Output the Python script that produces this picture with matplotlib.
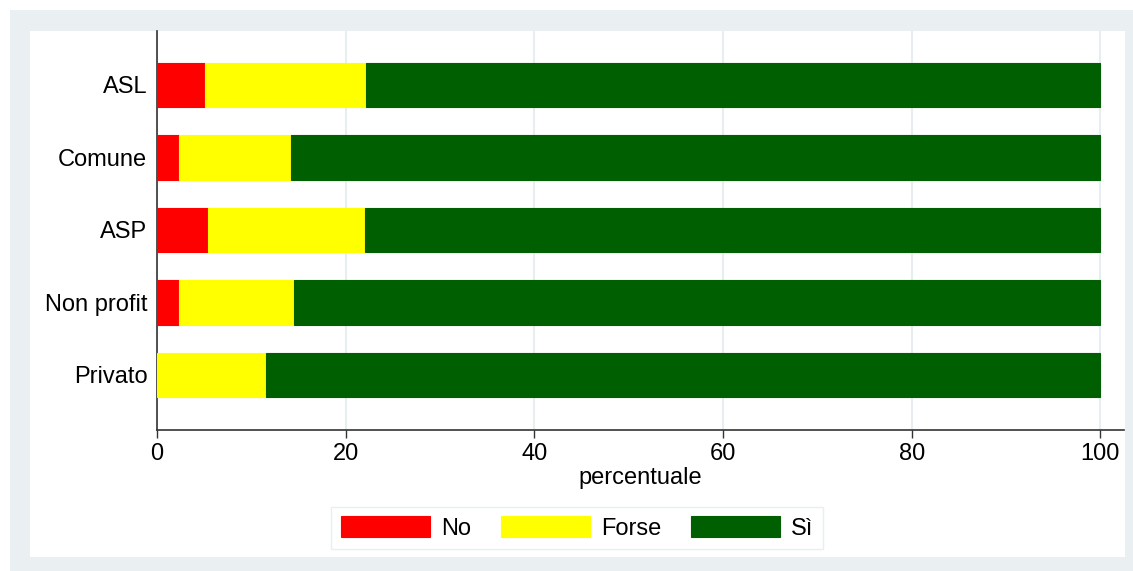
import matplotlib
matplotlib.use("Agg")
import matplotlib.pyplot as plt
from matplotlib.patches import Rectangle
import numpy as np

categories = ["ASL", "Comune", "ASP", "Non profit", "Privato"]
no_vals = [5.1, 2.3, 5.4, 2.3, 0.0]
forse_vals = [17.1, 11.9, 16.7, 12.2, 11.6]
si_vals = [100 - a - b for a, b in zip(no_vals, forse_vals)]
series_labels = ["No", "Forse", "Sì"]
colors = ["#FF0000", "#FFFF00", "#005F00"]
xticks = [0, 20, 40, 60, 80, 100]

plt.rcParams['font.family'] = ['Liberation Sans', 'DejaVu Sans']
W, H = 1133, 571
fig = plt.figure(figsize=(W / 100, H / 100), dpi=100, facecolor="white")

bg = "#EAF0F2"
fig.patches.append(Rectangle((10 / W, 0), 1 - 10 / W, 1 - 10 / H, transform=fig.transFigure,
                             facecolor=bg, edgecolor="none", zorder=-10))
fig.patches.append(Rectangle((30 / W, 1 - 557 / H), (1125 - 30) / W, (557 - 31) / H,
                             transform=fig.transFigure, facecolor="white", edgecolor="none", zorder=-9))

ax = fig.add_axes([157 / W, 1 - 430 / H, (1124 - 157) / W, (430 - 31) / H])
ax.set_facecolor("none")

y = np.arange(len(categories))
h = 0.61
left = np.zeros(len(categories))
handles = []
for vals, lab, col in zip([no_vals, forse_vals, si_vals], series_labels, colors):
    b = ax.barh(y, vals, left=left, height=h, color=col, edgecolor=col, linewidth=0.8,
                label=lab, zorder=3)
    handles.append(b)
    left = left + np.array(vals)

ax.set_ylim(len(categories) - 1 + 0.76, -0.745)
ax.set_xlim(0, 102.5)
ax.set_yticks(y)
ax.set_yticklabels(categories, fontsize=17)
ax.set_xticks(xticks)
ax.set_xticklabels([str(t) for t in xticks], fontsize=17)
ax.tick_params(axis="y", length=0, pad=7)
ax.tick_params(axis="x", length=6, width=1, color="#333333", pad=3)
ax.set_xlabel("percentuale", fontsize=17, labelpad=2)
ax.grid(axis="x", color="#E6EEF0", linewidth=1.5, zorder=0)
ax.set_axisbelow(True)
for s in ["top", "right"]:
    ax.spines[s].set_visible(False)
for s in ["left", "bottom"]:
    ax.spines[s].set_color("#333333")
    ax.spines[s].set_linewidth(1.2)

leg = fig.legend(handles=handles, labels=series_labels, loc="center",
                 bbox_to_anchor=(577 / W, 1 - 528 / H), ncol=3, fontsize=17,
                 handlelength=3.8, handleheight=1.0, handletextpad=0.45,
                 columnspacing=1.25, borderpad=0.4, frameon=True, fancybox=False)
leg.get_frame().set_edgecolor("#E3ECEE")
leg.get_frame().set_linewidth(1.0)

fig.savefig("out.png", dpi=100, facecolor="white")
